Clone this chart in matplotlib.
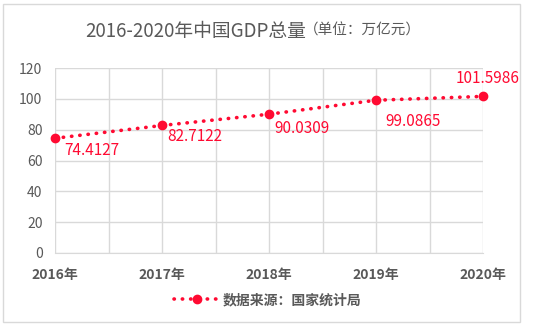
import matplotlib
matplotlib.use("Agg")
import matplotlib.pyplot as plt
from matplotlib.patches import Rectangle
from matplotlib.lines import Line2D

years = ["2016年", "2017年", "2018年", "2019年", "2020年"]
gdp = [74.4127, 82.7122, 90.0309, 99.0865, 101.5986]
yticks = [0, 20, 40, 60, 80, 100, 120]
title_main = "2016-2020年中国GDP总量"
title_unit = "（单位：万亿元）"
legend_label = "数据来源：国家统计局"

plt.rcParams['font.family'] = ['Noto Sans CJK SC', 'DejaVu Sans']
RED = '#FF0A32'
GRAY = '#595959'
GRID = '#D9D9D9'

W, H = 536, 327
fig = plt.figure(figsize=(W / 100, H / 100), dpi=100)
fig.patches.append(Rectangle((3 / W, 1 - 322 / H), 517 / W, 318 / H, transform=fig.transFigure,
                             fill=False, edgecolor=GRID, linewidth=1))

ax = fig.add_axes([55 / W, 1 - 253 / H, (483 - 55) / W, (253 - 68) / H])
x = list(range(len(years)))
ax.plot(x, gdp, color=RED, linestyle=(0, (0.1, 2.2)), linewidth=2.6, dash_capstyle='round',
        marker='o', markersize=6, markerfacecolor=RED, markeredgecolor=RED, clip_on=False, zorder=3)

ax.set_xlim(0, len(years) - 1)
ax.set_ylim(0, 120)
ax.set_yticks(yticks)
ax.set_xticks(x)
ax.set_xticks([i + 0.5 for i in range(len(years) - 1)], minor=True)
ax.set_xticklabels(years, fontsize=10, fontweight='bold', color=GRAY)
ax.set_yticklabels([str(v) for v in yticks], fontsize=10, color=GRAY)
ax.tick_params(axis='both', which='both', length=0)
ax.tick_params(axis='x', pad=11)
ax.tick_params(axis='y', pad=9)
ax.grid(True, which='both', color=GRID, linewidth=1)
ax.set_axisbelow(True)
for s in ax.spines.values():
    s.set_visible(False)
ax.spines['bottom'].set_visible(True)
ax.spines['bottom'].set_color(GRID)

offsets = [(7, -9), (4, -8), (4, -10), (7, -15), (3, 13)]
has = ['left', 'left', 'left', 'left', 'center']
for xi, v, off, ha in zip(x, gdp, offsets, has):
    ax.annotate(f"{v}", (xi, v), xytext=off, textcoords='offset points',
                ha=ha, va='center', fontsize=11, color=RED)

fig.text(306 / W, 1 - 31 / H, title_main, ha='right', va='center', fontsize=13.5, color=GRAY)
fig.text(304 / W, 1 - 31 / H, title_unit, ha='left', va='center', fontsize=10.5, color=GRAY)

handle = Line2D([], [], color=RED, linestyle=(0, (0.1, 2.2)), linewidth=2.6, dash_capstyle='round',
                marker='o', markersize=6, markerfacecolor=RED, markeredgecolor=RED)
leg = fig.legend([handle], [legend_label], loc='center', bbox_to_anchor=(0.5, 1 - 300 / H),
                 frameon=False, handlelength=3.2, handletextpad=0.3,
                 prop={'size': 10, 'weight': 'bold'})
for t in leg.get_texts():
    t.set_color(GRAY)

fig.savefig("out.png", dpi=100)
